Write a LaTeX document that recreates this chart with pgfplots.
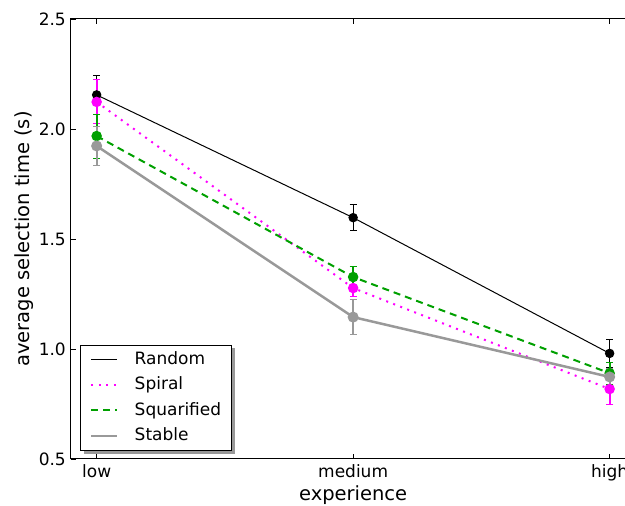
\documentclass[border=0pt]{standalone}
\usepackage{fontspec}
\setmainfont{DejaVu Sans}
\usepackage{pgfplots}
\pgfplotsset{compat=1.18}
\usetikzlibrary{backgrounds}
\definecolor{spiralc}{RGB}{255,0,255}
\definecolor{squarec}{RGB}{0,160,0}
\definecolor{stablec}{RGB}{153,153,153}
\begin{document}
\begin{tikzpicture}
\begin{axis}[
  at={(0pt,0pt)}, anchor=south west,
  scale only axis,
  width=564.3pt, height=440pt,
  xmin=-0.1, xmax=2.1,
  ymin=0.5, ymax=2.5,
  xtick={0,1,2},
  xticklabels={low,medium,high},
  ytick={0.5,1.0,1.5,2.0,2.5},
  /pgf/number format/assume math mode=true,
  /pgf/number format/fixed,
  /pgf/number format/fixed zerofill,
  /pgf/number format/precision=1,
  tick label style={font=\fontsize{17}{20}\selectfont},
  xticklabel style={anchor=base, yshift=-19pt, inner sep=0pt},
  yticklabel style={anchor=east, inner sep=0pt, xshift=-5pt},
  major tick length=5pt,
  every tick/.style={black, line width=0.8pt},
  axis line style={black, line width=1pt},
  xlabel={experience},
  ylabel={average selection time (s)},
  every axis x label/.style={at={(axis description cs:0.5,0)}, anchor=base, yshift=-42pt, font=\fontsize{19.5}{23}\selectfont},
  every axis y label/.style={at={(axis description cs:0,0.5)}, xshift=-41pt, rotate=90, anchor=base, font=\fontsize{19.5}{23}\selectfont},
  clip=false,
  legend cell align=left,
  legend image code/.code={\draw[#1] (0pt,0pt) -- (26pt,0pt);},
  legend style={
    name=leg,
    at={(axis description cs:0.016,0.02)}, anchor=south west,
    font=\fontsize{17}{20}\selectfont,
    draw=black, fill=white,
    inner xsep=10pt, inner ysep=6pt,
    row sep=9.6pt, column sep=16pt,
    nodes={inner sep=0pt, text height=13pt, text depth=3pt},
  },
]
\addplot[black, line width=1pt, mark=*, mark size=4.2pt,
  error bars/.cd, y dir=both, y explicit,
  error bar style={line width=1pt, black},
  error mark options={rotate=90, mark size=3.5pt, line width=1pt, black}]
  coordinates {(0,2.155) +- (0,0.09) (1,1.597) +- (0,0.06) (2,0.980) +- (0,0.065)};
\addlegendentry{Random}
\addplot[spiralc, line width=2pt, dash pattern=on 2pt off 5.5pt, mark=*, mark size=4.2pt,
  mark options={solid},
  error bars/.cd, y dir=both, y explicit,
  error bar style={line width=2pt, spiralc, solid},
  error mark options={rotate=90, mark size=3.5pt, line width=1pt, spiralc, solid}]
  coordinates {(0,2.123) +- (0,0.10) (1,1.277) +- (0,0.04) (2,0.818) +- (0,0.07)};
\addlegendentry{Spiral}
\addplot[squarec, line width=2pt, dash pattern=on 7pt off 5pt, mark=*, mark size=4.2pt,
  mark options={solid},
  error bars/.cd, y dir=both, y explicit,
  error bar style={line width=2pt, squarec, solid},
  error mark options={rotate=90, mark size=3.5pt, line width=1pt, squarec, solid}]
  coordinates {(0,1.968) +- (0,0.10) (1,1.327) +- (0,0.05) (2,0.890) +- (0,0.05)};
\addlegendentry{Squarified}
\addplot[stablec, line width=2.5pt, mark=*, mark size=4.2pt,
  error bars/.cd, y dir=both, y explicit,
  error bar style={line width=2pt, stablec},
  error mark options={rotate=90, mark size=3.5pt, line width=1pt, stablec}]
  coordinates {(0,1.923) +- (0,0.09) (1,1.145) +- (0,0.08) (2,0.873) +- (0,0.04)};
\addlegendentry{Stable}
\end{axis}
\begin{scope}[on background layer]
\fill[gray!80] ([shift={(3.5pt,-3.5pt)}]leg.south west) rectangle ([shift={(3.5pt,-3.5pt)}]leg.north east);
\end{scope}
\pgfresetboundingbox
\useasboundingbox (-71pt,-47pt) rectangle (554pt,459pt);
\end{tikzpicture}
\end{document}
